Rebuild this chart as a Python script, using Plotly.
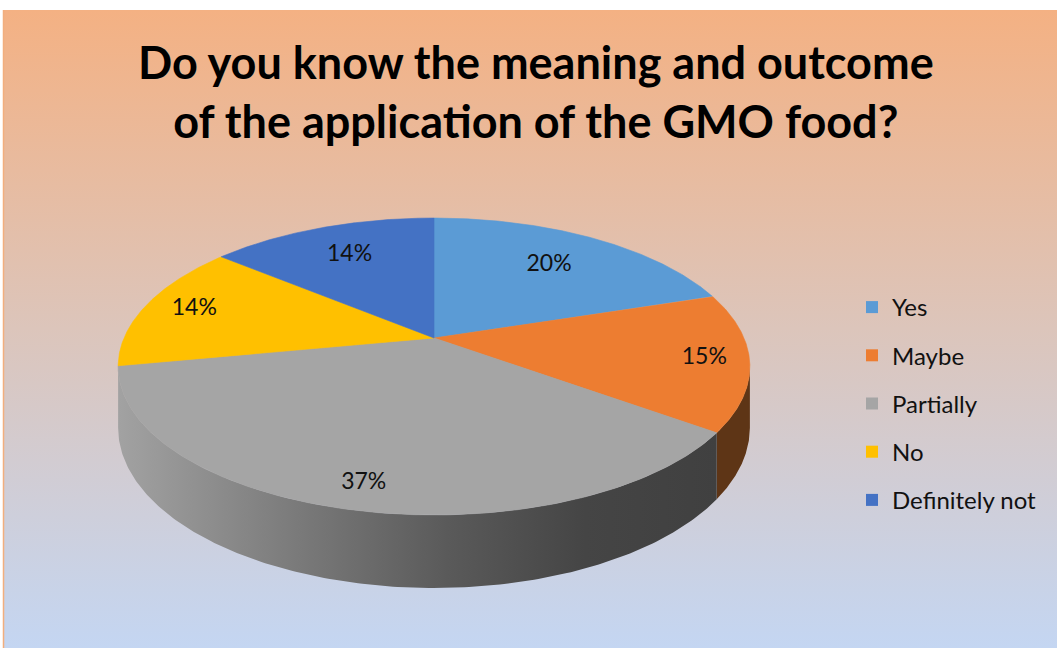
import numpy as np
import plotly.graph_objects as go

# ---------------- data ----------------
categories = ["Yes", "Maybe", "Partially", "No", "Definitely not"]
values = [20, 15, 37, 14, 14]
title_text = "<b>Do you know the meaning and outcome<br>of the application of the GMO food?</b>"

# ---------------- style ----------------
top_colors = ["#5b9bd5", "#ed7d31", "#a5a5a5", "#ffc000", "#4472c4"]
side_colors = ["#2e5d8a", "#5e3516", "#404040", "#8a6700", "#243f70"]
label_radius = [0.70, 0.86, 0.87, 0.83, 0.72]

W, H = 1057, 648
CX, CY = 434, 338       # pie apex (pixels)
K, KB, A = 310, 143, 0.192   # perspective projection params
T = 59                  # thickness

def proj(t, r=1.0, h=0.0):
    X = r * np.sin(t)
    Z = r * np.cos(t)
    d = 1 + A * Z
    return CX + K * X / d, CY - KB * Z / d + h / d

fig = go.Figure()

# background gradient
fig.add_trace(go.Scatter(
    x=[3, W + 5, W + 5, 3, 3], y=[10, 10, H + 5, H + 5, 10],
    mode="lines", fill="toself", line=dict(width=0),
    fillgradient=dict(type="vertical",
                      colorscale=[[0, "#f4b183"], [0.5, "#dcc5bb"], [1, "#c4d6f2"]],
                      start=10, stop=H),
    hoverinfo="skip", showlegend=False))

total = sum(values)
fr = np.array(values) / total
ends = np.cumsum(fr) * 2 * np.pi
starts = ends - fr * 2 * np.pi

# silhouette extremes
tt = np.linspace(0, 2 * np.pi, 7201)
xx, _ = proj(tt)
t_right = tt[np.argmax(xx)]
t_left = tt[np.argmin(xx)]

# side bands (front visible part)
for i, (s, e) in enumerate(zip(starts, ends)):
    a0, a1 = max(s, t_right), min(e, t_left)
    if a1 <= a0:
        continue
    ts = np.linspace(a0, a1, 200)
    xt, yt = proj(ts)
    xb, yb = proj(ts[::-1], h=T)
    px = np.concatenate([xt, xb, xt[:1]])
    py = np.concatenate([yt, yb, yt[:1]])
    kw = dict(fillcolor=side_colors[i])
    if categories[i] == "Partially":
        kw = dict(fillgradient=dict(
            type="horizontal",
            colorscale=[[0, "#a2a2a2"], [0.3, "#7a7a7a"], [0.55, "#5a5a5a"],
                        [0.78, "#454545"], [1, "#404040"]],
            start=float(px.min()), stop=float(px.max())))
    fig.add_trace(go.Scatter(x=px, y=py, mode="lines", fill="toself",
                             line=dict(width=0), hoverinfo="skip",
                             showlegend=False, **kw))

# top faces
for i, (s, e) in enumerate(zip(starts, ends)):
    ts = np.linspace(s, e, 200)
    xr, yr = proj(ts)
    px = np.concatenate([[CX], xr, [CX]])
    py = np.concatenate([[CY], yr, [CY]])
    fig.add_trace(go.Scatter(x=px, y=py, mode="lines", fill="toself",
                             fillcolor=top_colors[i],
                             line=dict(width=0.6, color=top_colors[i]),
                             hoverinfo="skip", showlegend=False))

# labels
mids = (starts + ends) / 2
lx, ly = [], []
for m, r in zip(mids, label_radius):
    x_, y_ = proj(m, r)
    lx.append(x_)
    ly.append(y_)
fig.add_trace(go.Scatter(x=lx, y=ly, mode="text",
                         text=[f"{round(v / total * 100)}%" for v in values],
                         textfont=dict(family="Lato", size=23, color="#111111"),
                         hoverinfo="skip", showlegend=False))

# legend entries
for c, col in zip(categories, top_colors):
    fig.add_trace(go.Scatter(x=[None], y=[None], mode="markers", name=c,
                             legendgroup=c,
                             marker=dict(symbol="square", size=15, color=col)))

fig.add_annotation(text=title_text, x=536, y=91, xref="x", yref="y",
                   showarrow=False, xanchor="center", yanchor="middle",
                   font=dict(family="Lato", size=45, color="#000000"),
                   align="center")

fig.add_shape(type="line", x0=3.5, x1=3.5, y0=10, y1=H, xref="x", yref="y",
              line=dict(color="#f2ae7e", width=1.5))

fig.update_layout(
    width=W, height=H,
    margin=dict(l=0, r=0, t=0, b=0),
    paper_bgcolor="white", plot_bgcolor="rgba(0,0,0,0)",
    xaxis=dict(range=[0, W], visible=False, fixedrange=True),
    yaxis=dict(range=[H, 0], visible=False, fixedrange=True),
    showlegend=True,
    legend=dict(x=852 / W, y=1 - 285 / H, xanchor="left", yanchor="top",
                font=dict(family="Lato", size=24, color="#111111"),
                tracegroupgap=14, bgcolor="rgba(0,0,0,0)",
                itemsizing="constant"),
)

fig.write_html("out.html")
